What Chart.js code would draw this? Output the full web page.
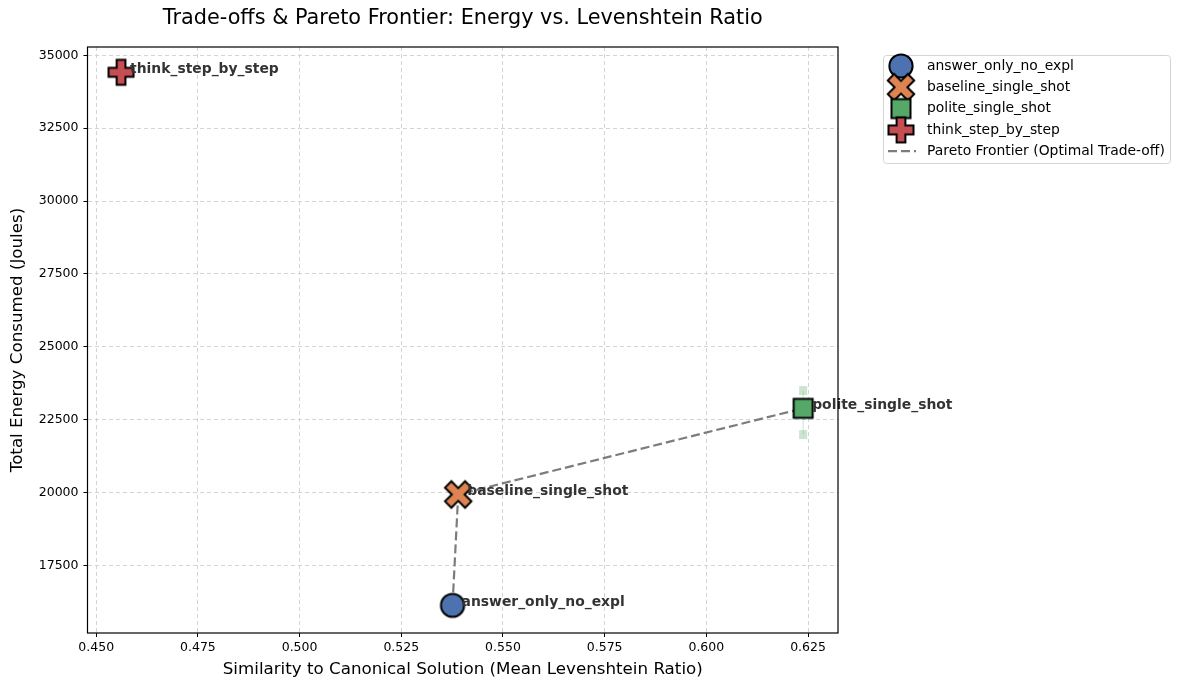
<!DOCTYPE html>
<html>
<head>
<meta charset="utf-8">
<script src="https://cdn.jsdelivr.net/npm/chart.js@4.4.1/dist/chart.umd.min.js"></script>
<style>
  html, body { margin: 0; padding: 0; background: #fff; }
</style>
</head>
<body>
<canvas id="chart" width="1181" height="690"></canvas>
<script>
// data
const prompts = ['answer_only_no_expl', 'baseline_single_shot', 'polite_single_shot', 'think_step_by_step'];
const similarity = [0.5376, 0.5390, 0.6238, 0.4561];
const energy = [16127, 19931, 22886, 34417];
const energyErrUp = [0, 0, 610, 0];
const energyErrDown = [0, 0, 900, 0];
const frontier = ['answer_only_no_expl', 'baseline_single_shot', 'polite_single_shot'];
const frontierLabel = 'Pareto Frontier (Optimal Trade-off)';

const xTicks = [0.450, 0.475, 0.500, 0.525, 0.550, 0.575, 0.600, 0.625];
const yTicks = [17500, 20000, 22500, 25000, 27500, 30000, 32500, 35000];

const colors = ['#4C72B0', '#DD8452', '#55A868', '#C44E52'];
const shapes = ['circle', 'x', 'square', 'plus'];

const FONT = "'DejaVu Sans', 'Liberation Sans', sans-serif";
Chart.defaults.font.family = FONT;
Chart.defaults.color = '#000';

// filled markers with black edge, like matplotlib o / X / s / P
function makeMarker(shape, color) {
  const S = 34, c = S / 2;
  const cv = document.createElement('canvas');
  cv.width = S; cv.height = S;
  const g = cv.getContext('2d');
  g.fillStyle = color;
  g.strokeStyle = '#000';
  g.lineWidth = 2;
  g.lineJoin = 'miter';
  g.beginPath();
  if (shape === 'circle') {
    g.arc(c, c, 11.6, 0, Math.PI * 2);
  } else if (shape === 'square') {
    g.rect(c - 9.5, c - 9.5, 19, 19);
  } else {
    const h = shape === 'plus' ? 12.5 : 14.2;
    const a = shape === 'plus' ? 4.4 : 4.5;
    const rot = shape === 'x' ? Math.PI / 4 : 0;
    const pts = [[a, h], [a, a], [h, a], [h, -a], [a, -a], [a, -h], [-a, -h], [-a, -a], [-h, -a], [-h, a], [-a, a], [-a, h]];
    pts.forEach((p, i) => {
      const px = c + p[0] * Math.cos(rot) - p[1] * Math.sin(rot);
      const py = c + p[0] * Math.sin(rot) + p[1] * Math.cos(rot);
      if (i === 0) g.moveTo(px, py); else g.lineTo(px, py);
    });
  }
  g.closePath();
  g.fill();
  g.stroke();
  return cv;
}
const markers = shapes.map((s, i) => makeMarker(s, colors[i]));

const scatterSets = prompts.map((name, i) => ({
  type: 'scatter',
  label: name,
  data: [{ x: similarity[i], y: energy[i] }],
  pointStyle: markers[i],
  pointRadius: 12,
  order: 0
}));

const frontierSet = {
  type: 'line',
  label: frontierLabel,
  data: frontier.map(n => {
    const i = prompts.indexOf(n);
    return { x: similarity[i], y: energy[i] };
  }),
  borderColor: 'rgba(110,110,110,0.9)',
  borderWidth: 2.2,
  borderDash: [9, 4],
  pointRadius: 0,
  tension: 0,
  fill: false,
  order: 10
};

// light error bars under the markers
const errorBars = {
  id: 'errorBars',
  beforeDatasetsDraw(chart) {
    const { ctx, scales: { x, y } } = chart;
    ctx.save();
    prompts.forEach((n, i) => {
      if (!energyErrUp[i] && !energyErrDown[i]) return;
      const px = x.getPixelForValue(similarity[i]);
      const top = y.getPixelForValue(energy[i] + energyErrUp[i]);
      const bot = y.getPixelForValue(energy[i] - energyErrDown[i]);
      ctx.globalAlpha = 0.3;
      ctx.strokeStyle = colors[i];
      ctx.fillStyle = colors[i];
      ctx.lineWidth = 1;
      ctx.beginPath();
      ctx.moveTo(px, top);
      ctx.lineTo(px, bot);
      ctx.stroke();
      ctx.fillRect(px - 4, top - 4.5, 8, 9);
      ctx.fillRect(px - 4, bot - 4.5, 8, 9);
    });
    ctx.restore();
  }
};

// bold names next to each point
const pointLabels = {
  id: 'pointLabels',
  afterDatasetsDraw(chart) {
    const { ctx, scales: { x, y } } = chart;
    ctx.save();
    ctx.font = 'bold 13.9px ' + FONT;
    ctx.fillStyle = '#333';
    ctx.textBaseline = 'middle';
    prompts.forEach((n, i) => {
      ctx.fillText(n, x.getPixelForValue(similarity[i]) + 9, y.getPixelForValue(energy[i]) - 3);
    });
    ctx.restore();
  }
};

// full black frame + legend box on the right
const frameAndLegend = {
  id: 'frameAndLegend',
  afterDraw(chart) {
    const { ctx, chartArea: a } = chart;
    ctx.save();
    ctx.strokeStyle = '#000';
    ctx.lineWidth = 1.2;
    ctx.strokeRect(a.left, a.top, a.right - a.left, a.bottom - a.top);

    const bx = 883.5, by = 55.5, bw = 287, bh = 108;
    ctx.beginPath();
    ctx.roundRect(bx, by, bw, bh, 3);
    ctx.fillStyle = 'rgba(255,255,255,0.8)';
    ctx.fill();
    ctx.strokeStyle = '#d4d4d4';
    ctx.lineWidth = 1;
    ctx.stroke();

    ctx.font = '13.9px ' + FONT;
    ctx.fillStyle = '#000';
    ctx.textBaseline = 'middle';
    const rowY = i => 66 + i * 21.3;
    prompts.forEach((n, i) => {
      const m = markers[i];
      ctx.drawImage(m, 901 - m.width / 2, rowY(i) - m.height / 2);
      ctx.fillText(n, 927, rowY(i));
    });
    const ly = rowY(prompts.length);
    ctx.beginPath();
    ctx.setLineDash([9, 4]);
    ctx.strokeStyle = 'rgba(110,110,110,0.9)';
    ctx.lineWidth = 2.2;
    ctx.moveTo(888, ly);
    ctx.lineTo(916, ly);
    ctx.stroke();
    ctx.setLineDash([]);
    ctx.fillText(frontierLabel, 927, ly);
    ctx.restore();
  }
};

const gridOpts = { color: '#d4d4d4', lineWidth: 1, tickColor: '#000', tickLength: 4, tickWidth: 1, tickBorderDash: [] };

const ctx = document.getElementById('chart').getContext('2d');
new Chart(ctx, {
  data: { datasets: [frontierSet, ...scatterSets] },
  options: {
    responsive: false,
    animation: false,
    events: [],
    layout: { padding: { top: 0, left: 6, right: 343, bottom: 6 } },
    plugins: {
      legend: { display: false },
      tooltip: { enabled: false },
      title: { display: false }
    },
    scales: {
      x: {
        type: 'linear',
        position: 'bottom',
        min: 0.44786,
        max: 0.63237,
        afterFit: s => { s.height = 51; },
        afterBuildTicks: s => { s.ticks = xTicks.map(v => ({ value: v })); },
        ticks: {
          padding: 3,
          font: { size: 12.5 },
          color: '#000',
          callback: v => v.toFixed(3)
        },
        grid: gridOpts,
        border: { display: false, dash: [4, 3] },
        title: {
          display: true,
          text: 'Similarity to Canonical Solution (Mean Levenshtein Ratio)',
          font: { size: 16.7 },
          color: '#000',
          padding: { top: 4, bottom: 4 }
        }
      },
      xTop: {
        type: 'linear',
        axis: 'x',
        position: 'top',
        min: 0,
        max: 1,
        afterFit: s => { s.height = 47; },
        ticks: { display: false },
        grid: { display: false, drawTicks: false, tickLength: 0 },
        border: { display: false },
        title: {
          display: true,
          text: 'Trade-offs & Pareto Frontier: Energy vs. Levenshtein Ratio',
          font: { size: 20.8 },
          color: '#000',
          padding: { top: 6.5, bottom: 0 }
        }
      },
      y: {
        type: 'linear',
        min: 15177,
        max: 35285,
        afterFit: s => { s.width = 81.5; },
        afterBuildTicks: s => { s.ticks = yTicks.map(v => ({ value: v })); },
        ticks: {
          padding: 5,
          font: { size: 12.5 },
          color: '#000',
          callback: v => String(v)
        },
        grid: gridOpts,
        border: { display: false, dash: [4, 3] },
        title: {
          display: true,
          text: 'Total Energy Consumed (Joules)',
          font: { size: 16.7 },
          color: '#000',
          padding: { top: 2, bottom: 4 }
        }
      }
    }
  },
  plugins: [errorBars, pointLabels, frameAndLegend]
});
</script>
</body>
</html>
